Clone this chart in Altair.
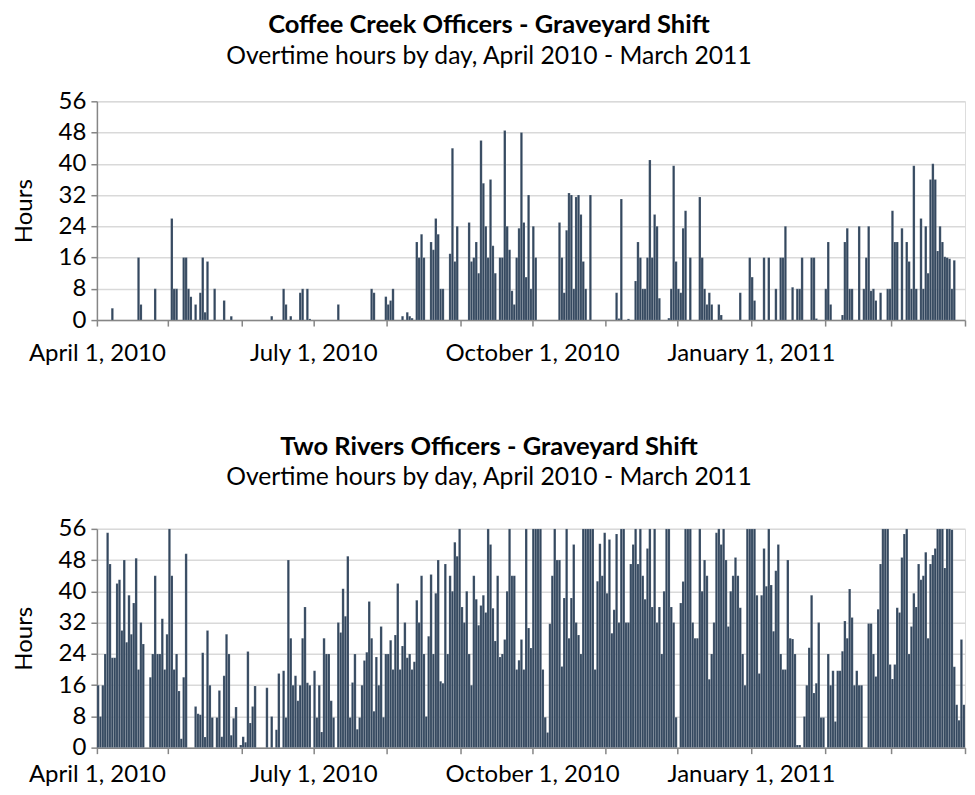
import altair as alt
import pandas as pd

START = "2010-04-01"
END = "2011-04-01"
N_DAYS = 365

TITLE_TOP = "Coffee Creek Officers - Graveyard Shift"
TITLE_BOTTOM = "Two Rivers Officers - Graveyard Shift"
SUBTITLE = "Overtime hours by day, April 2010 - March 2011"

# Coffee Creek: days (offset from April 1, 2010) with overtime, and the hours
coffee_days = [6, 17, 18, 24, 31, 32, 33, 36, 37, 38, 39, 41, 43, 44, 45, 46, 49, 53, 56,
               73, 78, 79, 81, 85, 86, 88, 89, 101, 115, 116, 121, 122, 123, 124, 128,
               130, 131, 132, 134, 135, 136, 137, 140, 141, 142, 143, 144, 145, 148, 149,
               150, 151, 156, 157, 158, 159, 160, 161, 162, 163, 164, 165, 166, 167, 169,
               170, 171, 172, 173, 174, 175, 176, 177, 178, 179, 180, 181, 182, 183, 184,
               194, 195, 196, 197, 198, 199, 200, 201, 202, 203, 204, 205, 207, 218, 219,
               220, 223, 226, 227, 228, 229, 230, 231, 232, 233, 234, 235, 236, 240, 241,
               242, 243, 244, 245, 246, 247, 249, 253, 254, 255, 256, 257, 258, 261, 262,
               270, 274, 275, 276, 280, 282, 285, 287, 288, 289, 292, 294, 295, 296, 300,
               301, 302, 306, 307, 308, 313, 314, 315, 316, 317, 320, 322, 323, 324, 325,
               326, 327, 329, 332, 333, 334, 335, 336, 338, 340, 341, 342, 343, 344, 346,
               347, 348, 349, 350, 351, 352, 353, 354, 355, 356, 357, 358, 359, 360]
coffee_hours = [3, 16, 4, 8, 26, 8, 8, 16, 16, 8, 6, 4, 7, 16, 2, 15, 8, 5, 1,
                1, 8, 4, 1, 7, 8, 8, 0.3, 4, 8, 7, 6, 4, 5, 8, 1,
                2, 1, 0.5, 20, 16, 22, 16, 20, 18, 26, 22, 8, 8, 17, 44,
                15, 24, 25, 15, 16, 20, 12, 46, 35, 24, 16, 36, 19, 12, 16,
                16, 48.5, 24, 18, 7.5, 4, 16, 23.5, 48, 25, 11, 32, 8, 24, 16,
                25, 16, 7, 23, 32.5, 32, 8, 31.5, 32, 27, 15, 8, 32, 7, 0.4,
                31, 0.3, 10, 20, 16, 8, 8, 16, 41, 16, 27, 24, 5.6, 0.5, 8,
                39.5, 15, 8, 7, 23.5, 28, 16, 31.5, 16, 8, 4, 7, 4, 4, 1.3,
                7, 16, 11, 5, 16, 16, 8, 16, 16, 24, 8.4, 8, 8, 16, 16,
                16, 0.4, 8, 20, 4, 1.3, 20, 23.5, 8, 8, 24, 8, 16, 24, 7.5,
                8, 5, 7, 8, 8, 28, 20, 20, 23.5, 20, 15, 8, 39.5, 8, 26,
                8, 24, 12, 36, 40, 36, 17.7, 24, 20, 16.2, 16, 15.7, 8, 15.3]

# Two Rivers: hours for every day, April 1, 2010 - March 31, 2011
two_rivers_hours = [
    16, 8, 16, 24, 55, 47, 23, 23, 42, 43, 30, 48, 27, 39, 29, 37, 48.5, 20, 32, 26.5,
    0, 0, 18, 24, 44, 24, 24, 33, 20, 29, 56, 44, 20, 24, 14.5, 2.3, 18, 49.6, 0, 0,
    0, 10.5, 8.7, 8.4, 24.3, 2.7, 30, 16, 7.7, 0, 7.7, 14.6, 2.8, 18.4, 29, 24, 3.2, 7.5, 10.4, 0,
    0.7, 2.8, 1.4, 24.6, 6.3, 10.5, 15.8, 0, 0, 0, 0, 15.3, 0, 8, 0, 4.6, 19, 0, 19.7, 7.7,
    48, 28, 16, 18.4, 12, 16, 28, 36, 16.6, 16, 0, 19.7, 7.7, 16, 4, 28, 24, 24, 12, 7.7,
    0, 32, 29.5, 40.7, 33.6, 49, 7.7, 16.7, 24, 4.7, 7.7, 16, 22.3, 24.4, 37.4, 28, 9.3, 23.2, 16, 31,
    7.8, 24, 24, 27.5, 20, 28.8, 42, 20, 26, 32, 23, 24, 20, 22, 37.7, 32, 44, 24, 8, 28.5,
    44.3, 24, 39.5, 48, 17, 16.5, 47, 24, 44, 40, 52.6, 49, 56, 36, 32, 40, 24, 16, 44, 38,
    31.3, 36.4, 39, 34.6, 56, 52, 35.7, 27.3, 44, 23.2, 24, 27.7, 40, 56, 44, 44, 20, 22.4, 27.7, 20,
    56, 30.6, 25.5, 56, 56, 56, 56, 20, 7.8, 3.9, 31.7, 44, 56, 48, 48, 20.8, 38.3, 56, 28, 38.3,
    52, 32, 28.8, 24, 56, 56, 56, 56, 56,
    20, 42.6, 52.2, 44, 55, 39.5, 53.3, 29.3, 35.3, 54.7,
    32, 56, 56, 32, 32, 47, 52, 56, 47, 56,
    44, 38, 51, 56, 36, 56, 32, 36, 24, 40,
    56, 56, 36, 32, 7.8, 0, 37, 42.5, 56, 56,
    56, 32, 28, 28, 56, 40, 48, 44, 17.5, 24,
    32, 55, 56, 52, 56, 48, 31, 40, 44, 48.7,
    44, 35.8, 24, 16, 56, 56, 56, 56, 39, 19,
    39, 51, 41.3, 56, 41.6, 29.8, 45.3, 52, 24, 20,
    20, 48, 28, 27.8, 24, 0.7, 0.7, 0, 8, 16,
    25.6, 39, 14, 16.5, 32, 7.7, 7.7, 0, 24, 16,
    19.7, 6.7, 19.7, 19.7, 24.7, 32.4, 28, 40.6, 33.3, 16,
    19.7, 16,
    16, 0, 0, 31.8, 31.8, 24, 18.2, 35.4, 47, 56, 56, 56,
    21.3, 17.6, 21.3, 35.8, 34.6, 48.7, 54.7, 56, 24, 31,
    39.5, 36, 47, 43, 44, 50, 28, 47, 49.3, 51,
    56, 56, 56,
    46, 56, 56, 55.8, 20.7, 11, 7, 27.7, 11,
]

tick_label_dates = ["2010-04-01", "2010-07-01", "2010-10-01", "2011-01-01"]
tick_label_text = ["April 1, 2010", "July 1, 2010", "October 1, 2010", "January 1, 2011"]
y_ticks = [0, 8, 16, 24, 32, 40, 48, 56]

BAR = "#34485f"
AXIS_GRAY = "#868686"
GRID_GRAY = "#d9d9d9"
FONT = "Lato"

base = pd.Timestamp(START)
days = list(range(N_DAYS))
month_offsets = [(m - base).days for m in pd.date_range(START, END, freq="MS")]
label_offsets = [(pd.Timestamp(d) - base).days for d in tick_label_dates]

label_expr = "".join(
    f"datum.value == {o} ? '{t}' : " for o, t in zip(label_offsets, tick_label_text)
) + "''"

cc_map = dict(zip(coffee_days, coffee_hours))
df_cc = pd.DataFrame({"day": days, "end": [d + 1 for d in days],
                      "hours": [cc_map.get(d, 0) for d in days]})
df_tr = pd.DataFrame({"day": days, "end": [d + 1 for d in days],
                      "hours": two_rivers_hours[:N_DAYS]})


def panel(df, title, title_offset, x_label_pad):
    return alt.Chart(
        df,
        title=alt.TitleParams(
            text=title, subtitle=SUBTITLE,
            font=FONT, fontSize=25.5, fontWeight="bold", color="#000000",
            subtitleFont=FONT, subtitleFontSize=24.7, subtitleColor="#000000",
            subtitlePadding=5, anchor="middle", frame="bounds", offset=title_offset,
        ),
    ).transform_filter("datum.hours > 0").mark_bar(
        color=BAR, stroke="white", strokeWidth=0.15, clip=True
    ).encode(
        x=alt.X("day:Q",
                scale=alt.Scale(domain=[0, N_DAYS], nice=False, zero=False),
                axis=alt.Axis(values=month_offsets, labelExpr=label_expr, title=None,
                              grid=False, domainColor=AXIS_GRAY, domainWidth=1.5,
                              tickColor=AXIS_GRAY, tickWidth=1.5, tickSize=6,
                              labelFont=FONT, labelFontSize=24, labelColor="#000000",
                              labelPadding=x_label_pad, labelFlush=False,
                              labelOverlap=False)),
        x2="end:Q",
        y=alt.Y("hours:Q",
                scale=alt.Scale(domain=[0, 56], nice=False),
                axis=alt.Axis(values=y_ticks, title="Hours", titleFont=FONT,
                              titleFontSize=24, titleFontWeight="normal",
                              titleColor="#000000", titlePadding=22,
                              labelFont=FONT, labelFontSize=24, labelColor="#000000",
                              labelPadding=5,
                              gridColor=GRID_GRAY, gridWidth=1.5,
                              domainColor=AXIS_GRAY, domainWidth=1.5,
                              tickColor=AXIS_GRAY, tickWidth=1.5, tickSize=6)),
        y2=alt.datum(0),
    ).properties(width=869, height=219)


chart = alt.vconcat(
    panel(df_cc, TITLE_TOP, 21, 15),
    panel(df_tr, TITLE_BOTTOM, 27, 9),
    spacing=68,
).configure_view(stroke=None).configure(
    background="white",
    padding={"left": 3, "right": 0, "top": 4, "bottom": 0},
)

chart.save("out.html", embed_options={"renderer": "svg", "actions": False})
